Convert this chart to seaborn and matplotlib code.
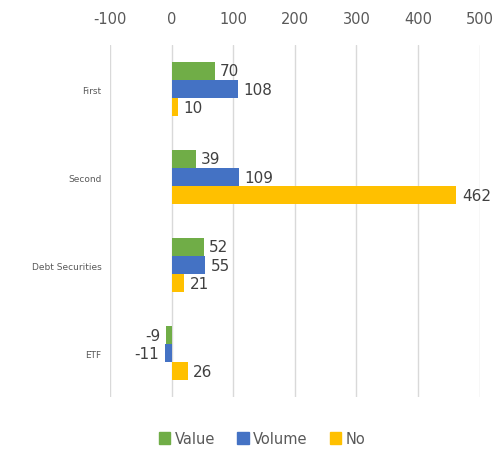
import pandas as pd
import seaborn as sns
import matplotlib.pyplot as plt

# chart values
categories = ['First', 'Second', 'Debt Securities', 'ETF']
value = [70, 39, 52, -9]
volume = [108, 109, 55, -11]
no = [10, 462, 21, 26]
series = ['Value', 'Volume', 'No']
colors = ['#70AD47', '#4472C4', '#FFC000']
xticks = [-100, 0, 100, 200, 300, 400, 500]

# long format for seaborn
df = pd.DataFrame({
    'cat': categories * 3,
    'val': value + volume + no,
    'series': ['Value'] * 4 + ['Volume'] * 4 + ['No'] * 4,
})

sns.set_style('white')
plt.rcParams['axes.unicode_minus'] = False
fig = plt.figure(figsize=(5.04, 4.52), dpi=100)
ax = fig.add_axes([0.218, 0.119, 0.734, 0.779])

sns.barplot(data=df, x='val', y='cat', hue='series', hue_order=series,
            order=categories, palette=colors, orient='h', width=0.62,
            saturation=1, linewidth=0, ax=ax, legend=False)

for c in ax.containers:
    ax.bar_label(c, padding=4, fontsize=11, color='#404040')

ax.set_xlim(-100, 500)
ax.set_ylim(3.5, -0.5)
ax.set_xticks(xticks)
ax.xaxis.tick_top()
ax.grid(axis='x', color='#D9D9D9', linewidth=1)
ax.set_axisbelow(True)
for s in ax.spines.values():
    s.set_visible(False)
ax.tick_params(axis='x', length=0, labelsize=10.5, labelcolor='#595959', pad=14)
ax.tick_params(axis='y', length=0, labelsize=6.5, labelcolor='#595959', pad=6)
ax.set_xlabel('')
ax.set_ylabel('')

handles = [plt.Rectangle((0, 0), 1, 1, color=c) for c in colors]
fig.legend(handles, series, loc='lower center', bbox_to_anchor=(0.52, -0.018),
           ncol=3, frameon=False, fontsize=10.5, labelcolor='#595959',
           handlelength=0.8, handleheight=0.8, handletextpad=0.3, columnspacing=1.5)

fig.savefig('out.png', dpi=100)
